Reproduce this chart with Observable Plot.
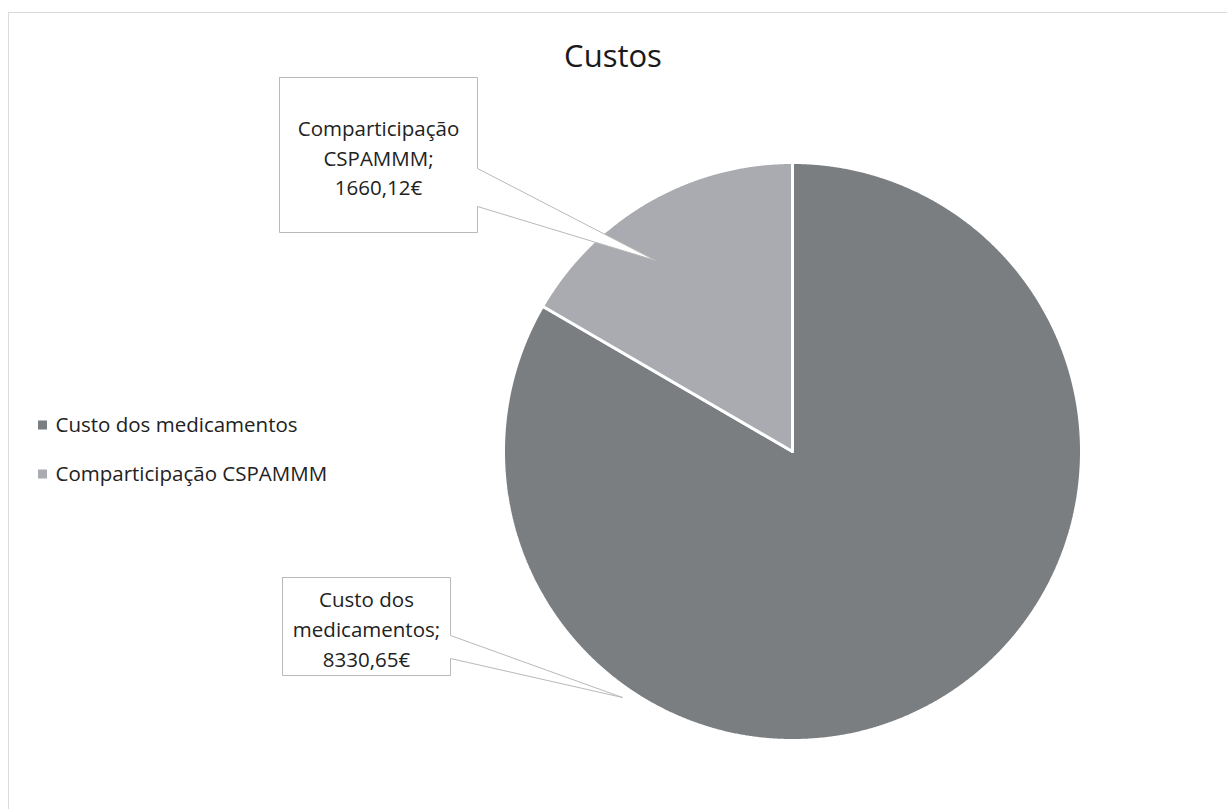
<!DOCTYPE html>
<html>
<head>
<meta charset="utf-8">
<script src="https://cdn.jsdelivr.net/npm/d3@7"></script>
<script src="https://cdn.jsdelivr.net/npm/@observablehq/plot@0.6"></script>
<style>
  html, body { margin: 0; padding: 0; background: #fff; }
</style>
</head>
<body>
<div id="chart"></div>
<script>
// ---- data ----
const chartTitle = "Custos";
const categories = ["Custo dos medicamentos", "Comparticipação CSPAMMM"];
const values = [8330.65, 1660.12];
const colors = ["#7a7e81", "#a9abb0"];

// ---- layout (pixels) ----
const W = 1227, H = 809;
const cx = 792, cy = 451, R = 289;
const FONT = "'Open Sans', 'Noto Sans', sans-serif";
const callouts = [
  { box: [282, 577, 450, 675], tip: [622, 697], neck: [635, 658] },
  { box: [279, 77, 477, 232], tip: [655, 260], neck: [168, 206] }
];
const legendLayout = { sx: 38, size: 9, tx: 55, rows: [425, 474] };

// ---- build ----
const fmt = v => v.toFixed(2).replace(".", ",") + "€";
const rows = categories.map((c, i) => ({ cat: c, value: values[i] }));
const arcs = d3.pie().sort(null).value(d => d.value)(rows);

const piePts = arcs.flatMap(a => {
  const n = Math.max(2, Math.ceil((a.endAngle - a.startAngle) / 0.004));
  const pts = [{ x: cx, y: cy, cat: a.data.cat }];
  for (let i = 0; i <= n; i++) {
    const t = a.startAngle + (a.endAngle - a.startAngle) * i / n;
    pts.push({ x: cx + R * Math.sin(t), y: cy - R * Math.cos(t), cat: a.data.cat });
  }
  pts.push({ x: cx, y: cy, cat: a.data.cat });
  return pts;
});

const calloutPts = callouts.flatMap((c, i) => {
  const [x0, y0, x1, y1] = c.box;
  return [[x0, y0], [x1, y0], [x1, c.neck[0]], c.tip, [x1, c.neck[1]], [x1, y1], [x0, y1], [x0, y0]]
    .map(([x, y]) => ({ x, y, k: i }));
});

const calloutText = rows.map((r, i) => {
  const sp = r.cat.lastIndexOf(" ");
  const txt = r.cat.slice(0, sp) + "\n" + r.cat.slice(sp + 1) + ";\n" + fmt(r.value);
  const [x0, y0, x1, y1] = callouts[i].box;
  return { txt, x: (x0 + x1) / 2, y: (y0 + y1) / 2 + 1 };
});

const legendRows = categories.map((c, i) => ({ cat: c, y: legendLayout.rows[i] }));

const plot = Plot.plot({
  width: W, height: H, margin: 0,
  x: { domain: [0, W], range: [0, W], axis: null },
  y: { domain: [0, H], range: [0, H], axis: null },
  color: { domain: categories, range: colors },
  style: { background: "white", overflow: "visible" },
  marks: [
    // chart frame
    Plot.ruleY([12], { x1: 8, x2: W, stroke: "#dadada", strokeWidth: 1 }),
    Plot.ruleX([8], { y1: 12, y2: H, stroke: "#dadada", strokeWidth: 1 }),
    // pie
    Plot.line(piePts, { x: "x", y: "y", z: "cat", fill: "cat", stroke: "white", strokeWidth: 3, strokeLinejoin: "miter" }),
    // title
    Plot.text([chartTitle], { x: W / 2 - 1, y: 57, text: d => d, fontSize: 31, fontFamily: FONT, fill: "#1a1a1a", textAnchor: "middle", lineAnchor: "middle" }),
    // legend
    Plot.rect(legendRows, { x1: legendLayout.sx, x2: legendLayout.sx + legendLayout.size, y1: d => d.y - legendLayout.size / 2, y2: d => d.y + legendLayout.size / 2, fill: "cat" }),
    Plot.text(legendRows, { x: legendLayout.tx, y: "y", text: "cat", fontSize: 20.5, fontFamily: FONT, fill: "#222222", textAnchor: "start", lineAnchor: "middle" }),
    // callouts
    Plot.line(calloutPts, { x: "x", y: "y", z: "k", fill: "white", stroke: "#b9b9b9", strokeWidth: 1, strokeLinejoin: "miter" }),
    Plot.text(calloutText, { x: "x", y: "y", text: "txt", fontSize: 20.5, lineHeight: 1.45, fontFamily: FONT, fill: "#222222", textAnchor: "middle", lineAnchor: "middle" })
  ]
});
document.getElementById("chart").appendChild(plot);
</script>
</body>
</html>
